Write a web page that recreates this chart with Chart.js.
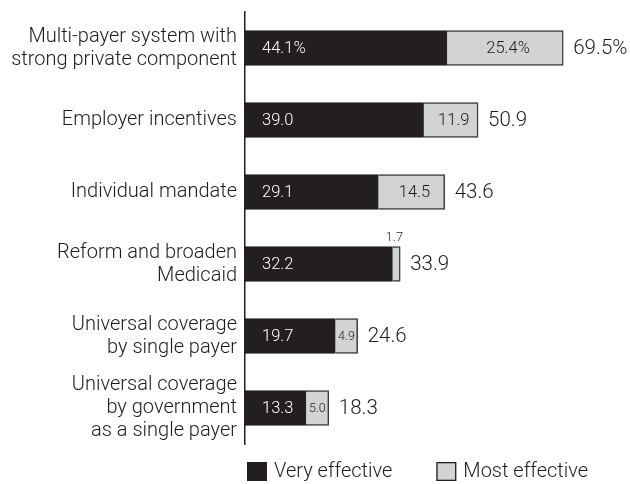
<!DOCTYPE html>
<html>
<head>
<meta charset="utf-8">
<title>Effective approaches to expanding coverage</title>
<script src="https://cdn.jsdelivr.net/npm/chart.js@4.4.1/dist/chart.umd.min.js"></script>
<style>
  html, body { margin: 0; padding: 0; background: #fff; }
  #wrap { width: 630px; height: 484px; }
</style>
</head>
<body>
<div id="wrap"><canvas id="coverageChart" width="630" height="484"></canvas></div>
<script>
"use strict";

// Approaches, top to bottom
const approaches = [
  ["Multi-payer system with", "strong private component"],
  "Employer incentives",
  "Individual mandate",
  ["Reform and broaden", "Medicaid"],
  ["Universal coverage", "by single payer"],
  ["Universal coverage", "by government", "as a single payer"],
];
const veryEffective = [44.1, 39.0, 29.1, 32.2, 19.7, 13.3];
const mostEffective = [25.4, 11.9, 14.5, 1.7, 4.9, 5.0];
// only the first row carries a percent sign
const pctSuffix = ["%", "", "", "", "", ""];
const seriesNames = ["Very effective", "Most effective"];

const DARK = "#231f20";
const LIGHT = "#d1d3d4";
const TEXT = "#1e1b1c";
const FONT = "Roboto, 'Liberation Sans', sans-serif";
const W = "300 "; // light weight

const fmt = (v, i) => v.toFixed(1) + pctSuffix[i];

// value labels inside/next to the bars plus the row totals
const barLabels = {
  id: "barLabels",
  afterDatasetsDraw(chart) {
    const ctx = chart.ctx;
    const dark = chart.getDatasetMeta(0).data;
    const light = chart.getDatasetMeta(1).data;
    ctx.save();
    ctx.textBaseline = "middle";
    dark.forEach((bar, i) => {
      ctx.fillStyle = "#fff";
      ctx.font = W + "16.5px " + FONT;
      ctx.textAlign = "left";
      ctx.fillText(fmt(veryEffective[i], i), bar.base + 17, bar.y + 1);

      const seg = light[i];
      const w = seg.x - seg.base;
      ctx.fillStyle = TEXT;
      ctx.textAlign = "center";
      if (w >= 30) {
        ctx.font = W + "16.5px " + FONT;
        ctx.fillText(fmt(mostEffective[i], i), (seg.x + seg.base) / 2 + 3, seg.y + 1);
      } else if (w >= 15) {
        ctx.font = W + "12.5px " + FONT;
        ctx.fillText(fmt(mostEffective[i], i), (seg.x + seg.base) / 2, seg.y + 1);
      } else {
        ctx.font = W + "13px " + FONT;
        ctx.fillText(fmt(mostEffective[i], i), (seg.x + seg.base) / 2 - 2, seg.y - seg.height / 2 - 9);
      }

      const total = veryEffective[i] + mostEffective[i];
      ctx.font = W + "20.5px " + FONT;
      ctx.textAlign = "left";
      ctx.fillText(fmt(total, i), seg.x + 10, seg.y + 1);
    });
    ctx.restore();
  },
};

// legend row under the plot
const bottomLegend = {
  id: "bottomLegend",
  afterDraw(chart) {
    const ctx = chart.ctx;
    const area = chart.chartArea;
    let x = area.left + 2;
    const y = area.bottom + 18;
    ctx.save();
    ctx.font = W + "20px " + FONT;
    ctx.textBaseline = "middle";
    ctx.textAlign = "left";
    chart.data.datasets.forEach((ds) => {
      ctx.fillStyle = ds.backgroundColor;
      ctx.fillRect(x, y, 20, 19);
      if (ds.backgroundColor !== DARK) {
        ctx.strokeStyle = DARK;
        ctx.lineWidth = 1.3;
        ctx.strokeRect(x + 0.65, y + 0.65, 18.7, 17.7);
      }
      ctx.fillStyle = TEXT;
      ctx.fillText(ds.label, x + 27, y + 10);
      x += 27 + ctx.measureText(ds.label).width + 44;
    });
    ctx.restore();
  },
};

const data = {
  labels: approaches,
  datasets: [
    {
      label: seriesNames[0],
      data: veryEffective,
      backgroundColor: DARK,
      borderColor: DARK,
      borderWidth: 1.5,
      barThickness: 35,
    },
    {
      label: seriesNames[1],
      data: mostEffective,
      backgroundColor: LIGHT,
      borderColor: "#3a3a3a",
      borderWidth: 1.5,
      barThickness: 35,
    },
  ],
};

const config = {
  type: "bar",
  data: data,
  options: {
    indexAxis: "y",
    responsive: false,
    animation: false,
    devicePixelRatio: 1,
    layout: {
      padding: { top: 12, right: 37, bottom: 40, left: 0 },
    },
    plugins: {
      legend: { display: false },
      tooltip: { enabled: false },
    },
    scales: {
      x: {
        stacked: true,
        display: false,
        min: 0,
        max: 76,
      },
      y: {
        stacked: true,
        grid: { display: false, drawTicks: false },
        border: { display: true, color: "#222", width: 1.5 },
        afterFit(scale) {
          // fixed gutter for the row names, no extra room above/below
          scale.width = 245;
          scale.paddingTop = 0;
          scale.paddingBottom = 0;
        },
        ticks: {
          color: TEXT,
          padding: 8,
          font: { family: FONT, size: 20, weight: 300, lineHeight: 1.15 },
        },
      },
    },
  },
  plugins: [barLabels, bottomLegend],
};

const coverageChart = new Chart(document.getElementById("coverageChart"), config);
</script>
</body>
</html>
